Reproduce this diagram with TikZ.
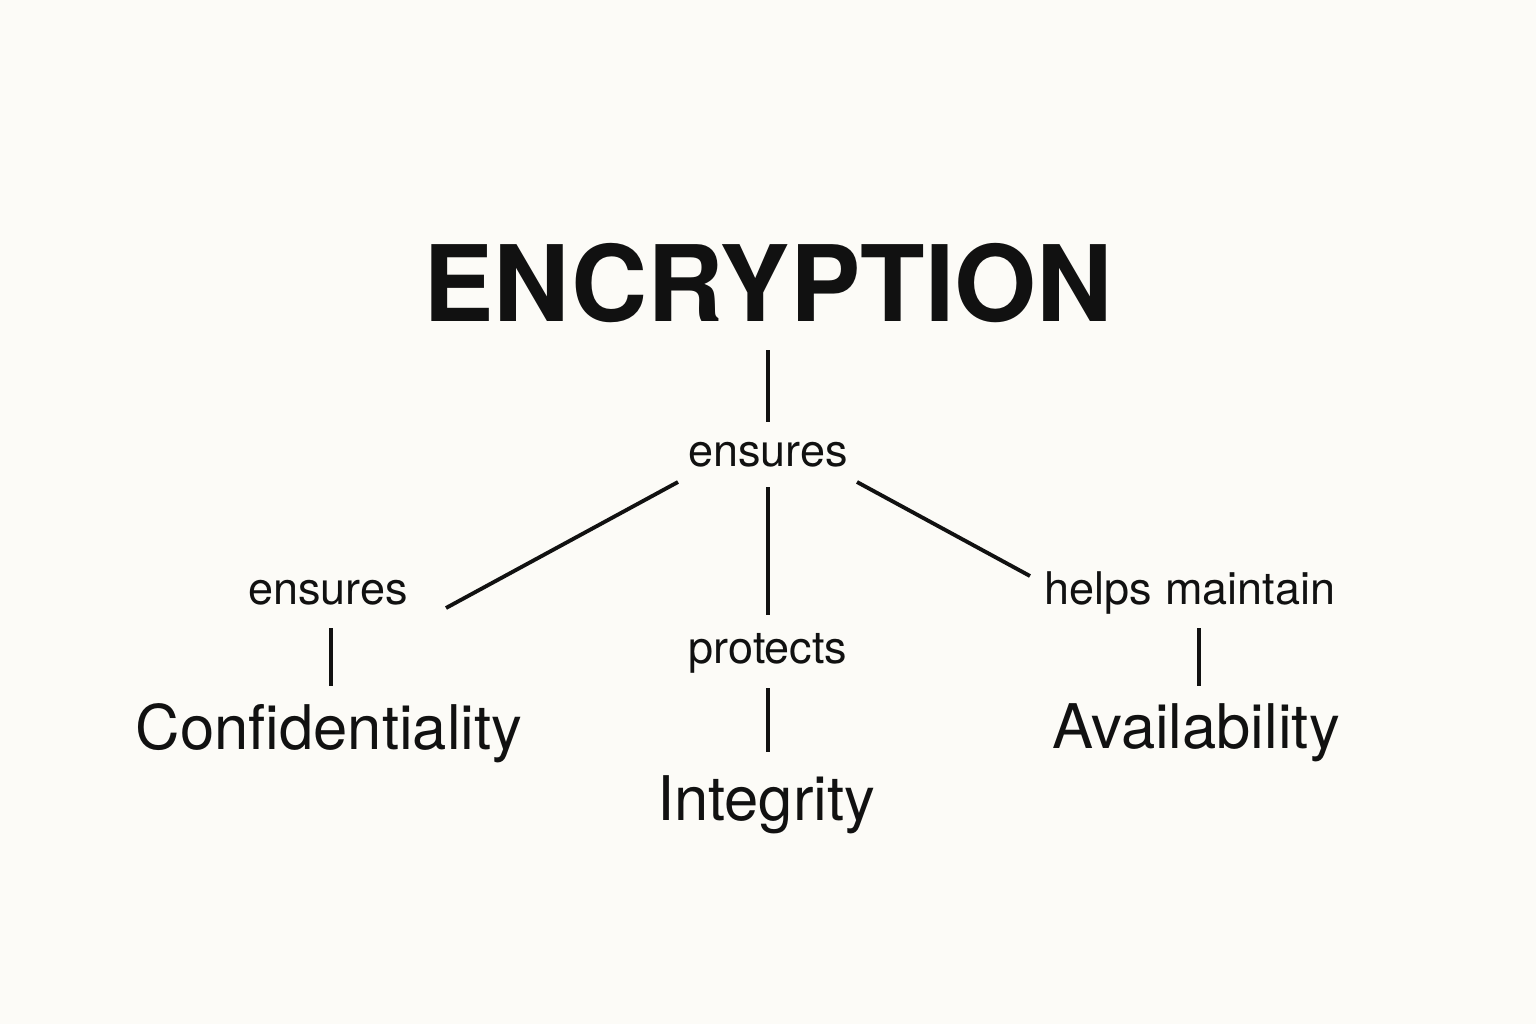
\documentclass[tikz,border=0pt]{standalone}
\usepackage{fontspec}
\setmainfont{TeX Gyre Heros}
\definecolor{paper}{HTML}{FCFBF7}
\definecolor{ink}{HTML}{111111}
\tikzset{
    lbl/.style={text=ink, font=\fontsize{12.8}{14}\selectfont, inner sep=0pt},
    term/.style={text=ink, font=\fontsize{17.5}{20}\selectfont, inner sep=0pt},
    link/.style={draw=ink, line width=1.1pt}
}
\begin{document}
\begin{tikzpicture}[x=0.01cm, y=-0.01cm]
    \fill[paper] (0,0) rectangle (1536,1024);
    \useasboundingbox (0,0) rectangle (1536,1024);

    \node[text=ink, font=\fontsize{30}{34}\selectfont\bfseries, inner sep=0pt] (enc) at (768,283) {ENCRYPTION};
    \node[lbl] (ens) at (768,455) {ensures};
    \node[lbl] (ensl) at (328,593) {ensures};
    \node[lbl] (prot) at (768,653) {protects};
    \node[lbl] (help) at (1190,593) {helps maintain};
    \node[term] (conf) at (329,733) {Confidentiality};
    \node[term] (integ) at (766,805) {Integrity};
    \node[term] (avail) at (1196,733) {Availability};

    % end points of the connectors
    \coordinate (a1) at (768,350); \coordinate (a2) at (768,422);
    \coordinate (b1) at (678,482); \coordinate (b2) at (446,608);
    \coordinate (c1) at (768,487); \coordinate (c2) at (768,615);
    \coordinate (d1) at (857,482); \coordinate (d2) at (1030,576);
    \coordinate (e1) at (331,628); \coordinate (e2) at (331,686);
    \coordinate (f1) at (768,688); \coordinate (f2) at (768,752);
    \coordinate (g1) at (1199,628); \coordinate (g2) at (1199,686);

    \foreach \p/\q in {a1/a2, b1/b2, c1/c2, d1/d2, e1/e2, f1/f2, g1/g2}
        \draw[link] (\p) -- (\q);
\end{tikzpicture}
\end{document}
